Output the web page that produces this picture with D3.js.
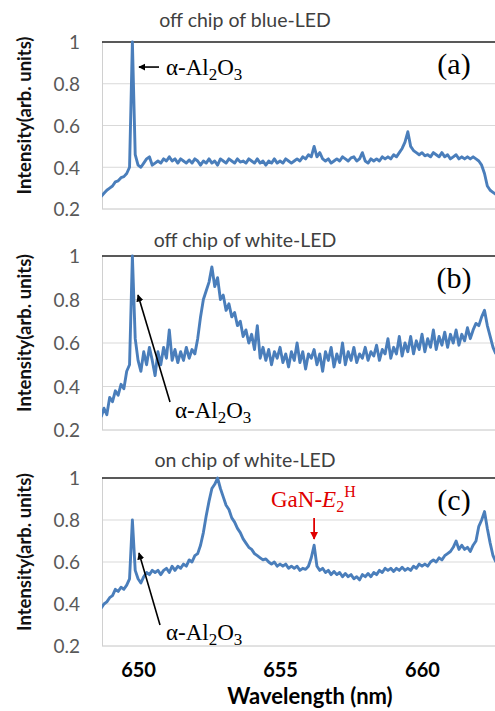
<!DOCTYPE html>
<html>
<head>
<meta charset="UTF-8">
<title>Raman spectra</title>
<style>
  body { margin: 0; background: #fff; }
  svg { display: block; }
  .tick text { font-family: Lato, "Open Sans", sans-serif; }
</style>
</head>
<body>
<svg></svg>
<script src="https://d3js.org/d3.v7.min.js"></script>
<script>

let width = 495, height = 711;

// wavelength (nm), shared by the three spectra
const wavelength = [
  648.7,648.8,648.9,649.0,649.1,649.2,649.3,649.4,649.5,649.6,
  649.7,649.8,649.9,650.0,650.1,650.2,650.3,650.4,650.5,650.6,
  650.7,650.8,650.9,651.0,651.1,651.2,651.3,651.4,651.5,651.6,
  651.7,651.8,651.9,652.0,652.1,652.2,652.3,652.4,652.5,652.6,
  652.7,652.8,652.9,653.0,653.1,653.2,653.3,653.4,653.5,653.6,
  653.7,653.8,653.9,654.0,654.1,654.2,654.3,654.4,654.5,654.6,
  654.7,654.8,654.9,655.0,655.1,655.2,655.3,655.4,655.5,655.6,
  655.7,655.8,655.9,656.0,656.1,656.2,656.3,656.4,656.5,656.6,
  656.7,656.8,656.9,657.0,657.1,657.2,657.3,657.4,657.5,657.6,
  657.7,657.8,657.9,658.0,658.1,658.2,658.3,658.4,658.5,658.6,
  658.7,658.8,658.9,659.0,659.1,659.2,659.3,659.4,659.5,659.6,
  659.7,659.8,659.9,660.0,660.1,660.2,660.3,660.4,660.5,660.6,
  660.7,660.8,660.9,661.0,661.1,661.2,661.3,661.4,661.5,661.6,
  661.7,661.8,661.9,662.0,662.1,662.2,662.3,662.4,662.5,662.6
];

// (a) off chip of blue-LED
const offBlue = [
  0.26,0.275,0.29,0.30,0.31,0.33,0.335,0.35,0.355,0.37,
  0.40,1.00,0.46,0.41,0.40,0.42,0.44,0.45,0.41,0.42,
  0.43,0.42,0.44,0.43,0.45,0.43,0.44,0.42,0.44,0.43,
  0.42,0.435,0.42,0.44,0.43,0.41,0.43,0.42,0.44,0.42,
  0.43,0.41,0.44,0.43,0.42,0.44,0.43,0.42,0.44,0.425,
  0.43,0.42,0.44,0.43,0.42,0.44,0.42,0.43,0.41,0.43,
  0.42,0.44,0.42,0.43,0.42,0.44,0.43,0.42,0.43,0.44,
  0.43,0.45,0.44,0.46,0.45,0.50,0.45,0.47,0.44,0.43,
  0.44,0.42,0.43,0.44,0.43,0.45,0.44,0.43,0.445,0.45,
  0.43,0.44,0.47,0.43,0.42,0.44,0.43,0.44,0.43,0.45,
  0.44,0.45,0.44,0.46,0.45,0.47,0.49,0.52,0.57,0.50,
  0.48,0.47,0.46,0.47,0.455,0.46,0.45,0.47,0.46,0.45,
  0.47,0.45,0.46,0.44,0.45,0.46,0.44,0.45,0.44,0.45,
  0.44,0.45,0.44,0.43,0.41,0.37,0.31,0.29,0.28,0.27
];

// (b) off chip of white-LED
const offWhite = [
  0.26,0.30,0.27,0.35,0.33,0.38,0.36,0.41,0.39,0.47,
  0.50,1.00,0.62,0.52,0.47,0.56,0.50,0.58,0.52,0.45,
  0.56,0.50,0.58,0.53,0.66,0.52,0.57,0.51,0.56,0.52,
  0.58,0.53,0.57,0.55,0.62,0.72,0.80,0.84,0.88,0.95,
  0.86,0.90,0.80,0.82,0.75,0.78,0.72,0.74,0.68,0.70,
  0.63,0.66,0.60,0.64,0.57,0.68,0.53,0.58,0.52,0.57,
  0.50,0.56,0.53,0.58,0.51,0.55,0.49,0.56,0.52,0.60,
  0.51,0.56,0.48,0.55,0.53,0.57,0.50,0.55,0.47,0.56,
  0.52,0.58,0.49,0.55,0.51,0.60,0.50,0.56,0.52,0.58,
  0.51,0.55,0.53,0.58,0.52,0.56,0.54,0.59,0.52,0.57,
  0.55,0.62,0.53,0.58,0.55,0.63,0.54,0.60,0.56,0.63,
  0.55,0.61,0.57,0.64,0.56,0.62,0.58,0.66,0.57,0.63,
  0.59,0.65,0.58,0.64,0.60,0.66,0.59,0.64,0.61,0.67,
  0.62,0.66,0.69,0.68,0.72,0.75,0.68,0.63,0.58,0.55
];

// (c) on chip of white-LED
const onWhite = [
  0.38,0.40,0.41,0.43,0.44,0.47,0.46,0.48,0.47,0.49,
  0.52,0.80,0.56,0.52,0.50,0.53,0.55,0.54,0.56,0.55,
  0.56,0.54,0.56,0.57,0.55,0.58,0.56,0.58,0.57,0.59,
  0.58,0.61,0.60,0.63,0.64,0.68,0.74,0.82,0.89,0.95,
  0.97,1.00,0.95,0.91,0.87,0.85,0.81,0.79,0.76,0.74,
  0.71,0.69,0.67,0.66,0.64,0.63,0.62,0.61,0.615,0.60,
  0.59,0.60,0.58,0.59,0.58,0.59,0.57,0.58,0.57,0.58,
  0.56,0.57,0.565,0.58,0.62,0.68,0.58,0.56,0.57,0.55,
  0.56,0.54,0.555,0.54,0.55,0.53,0.545,0.53,0.54,0.52,
  0.53,0.515,0.54,0.53,0.545,0.53,0.55,0.54,0.56,0.55,
  0.57,0.56,0.57,0.555,0.57,0.56,0.575,0.56,0.57,0.56,
  0.58,0.57,0.59,0.58,0.59,0.58,0.60,0.61,0.60,0.62,
  0.61,0.63,0.64,0.65,0.67,0.70,0.66,0.68,0.66,0.67,
  0.65,0.68,0.70,0.77,0.80,0.84,0.76,0.69,0.63,0.60
];

const panelTitles = ["off chip of blue-LED", "off chip of white-LED", "on chip of white-LED"];
const panelLetters = ["(a)", "(b)", "(c)"];
const yTicks = [0.2, 0.4, 0.6, 0.8, 1];
const xTicks = [650, 655, 660];
const xDomain = [648.73, 662.57];

let svg = d3.select("svg").attr("width", width).attr("height", height);

let sans = "Lato, 'Open Sans', sans-serif";
let serif = "'Liberation Serif', 'Times New Roman', serif";
let blue = "#4a7ebb";

let x = d3.scaleLinear().domain(xDomain).range([102, 495]);

// pixel boxes of the three panels (top = 1, bottom = 0.2)
let boxes = [
  {top: 42, bottom: 209, title: 27},
  {top: 256, bottom: 430, title: 247},
  {top: 478, bottom: 646, title: 467}
];
let series = [offBlue, offWhite, onWhite];

let defs = svg.append("defs");
function marker(id, color) {
  defs.append("marker")
    .attr("id", id)
    .attr("viewBox", "0 0 10 10")
    .attr("refX", 9).attr("refY", 5)
    .attr("markerWidth", 4.5).attr("markerHeight", 4.5)
    .attr("orient", "auto")
    .append("path").attr("d", "M0,0 L10,5 L0,10 z").attr("fill", color);
}
marker("arrBlack", "#000");
marker("arrRed", "#e00000");

defs.append("clipPath").attr("id", "plotclip")
  .append("rect").attr("x", 102).attr("y", 0).attr("width", 393).attr("height", height);

let ys = [];

boxes.forEach((b, i) => {
  let y = d3.scaleLinear().domain([0.2, 1]).range([b.bottom, b.top]);
  ys.push(y);
  let g = svg.append("g");

  // gridlines
  g.selectAll(".grid")
    .data(yTicks.filter(t => t < 1))
    .enter().append("line")
      .attr("x1", 102).attr("x2", 495)
      .attr("y1", d => y(d)).attr("y2", d => y(d))
      .attr("stroke", d => d === 0.2 ? "#c4c4c4" : "#d9d9d9")
      .attr("stroke-width", 1);
  g.append("line")
    .attr("x1", 102.5).attr("x2", 102.5)
    .attr("y1", y(1)).attr("y2", y(0.2))
    .attr("stroke", "#d0d0d0");
  g.append("line")
    .attr("x1", 102).attr("x2", 495)
    .attr("y1", y(1)).attr("y2", y(1))
    .attr("stroke", "#222").attr("stroke-width", 1.6);

  // y axis labels
  let yAxis = d3.axisLeft(y).tickValues(yTicks).tickSize(0).tickPadding(0)
    .tickFormat(d => d === 1 ? "1" : d3.format(".1f")(d));
  let ga = g.append("g").attr("transform", "translate(80,0)").call(yAxis);
  ga.select(".domain").remove();
  ga.selectAll("text")
    .attr("fill", "#595959")
    .style("font-size", "19px")
    .attr("dy", "0.36em");

  // y title
  g.append("text")
    .attr("transform", "translate(31," + ((b.top + b.bottom) / 2 - 10) + ") rotate(-90)")
    .attr("text-anchor", "middle")
    .style("font-family", sans).style("font-weight", "bold").style("font-size", "18.5px")
    .attr("fill", "#111")
    .text("Intensity(arb. units)");

  // panel title
  g.append("text")
    .attr("x", 245).attr("y", b.title)
    .attr("text-anchor", "middle")
    .style("font-family", sans).style("font-size", "19.5px")
    .attr("fill", "#404040")
    .text(panelTitles[i]);

  // spectrum
  let line = d3.line().x((d, j) => x(wavelength[j])).y(d => y(d));
  g.append("path")
    .datum(series[i])
    .attr("clip-path", "url(#plotclip)")
    .attr("d", line)
    .attr("fill", "none")
    .attr("stroke", blue)
    .attr("stroke-width", 2.9)
    .attr("stroke-linejoin", "round");

  // panel letter
  g.append("text")
    .attr("x", 454).attr("y", b.top + 32)
    .attr("text-anchor", "middle")
    .style("font-family", serif).style("font-size", "30px")
    .attr("fill", "#000")
    .text(panelLetters[i]);
});

// alpha-Al2O3 label
function alumina(xp, yp) {
  let t = svg.append("text")
    .attr("x", xp).attr("y", yp)
    .style("font-family", serif).style("font-size", "23px")
    .attr("fill", "#000");
  t.append("tspan").text("\u03b1-Al");
  t.append("tspan").attr("dy", 5).style("font-size", "17px").text("2");
  t.append("tspan").attr("dy", -5).text("O");
  t.append("tspan").attr("dy", 5).style("font-size", "17px").text("3");
}

// (a)
svg.append("line").attr("x1", 159).attr("y1", ys[0](0.88)).attr("x2", 139).attr("y2", ys[0](0.88))
  .attr("stroke", "#000").attr("stroke-width", 1.6).attr("marker-end", "url(#arrBlack)");
alumina(166, 75);

// (b)
svg.append("line").attr("x1", 170).attr("y1", 402).attr("x2", 138).attr("y2", 295)
  .attr("stroke", "#000").attr("stroke-width", 1.6).attr("marker-end", "url(#arrBlack)");
alumina(175, 418);

// (c)
svg.append("line").attr("x1", 160).attr("y1", 625).attr("x2", 139).attr("y2", 553)
  .attr("stroke", "#000").attr("stroke-width", 1.6).attr("marker-end", "url(#arrBlack)");
alumina(166, 640);

// GaN-E2H
let gan = svg.append("text")
  .attr("x", 271).attr("y", 507)
  .style("font-family", serif).style("font-size", "23px")
  .attr("fill", "#e00000");
gan.append("tspan").text("GaN-");
gan.append("tspan").style("font-style", "italic").text("E");
gan.append("tspan").attr("dy", 5).style("font-size", "16px").text("2");
gan.append("tspan").attr("dy", -15).style("font-size", "16px").text("H");
svg.append("line").attr("x1", x(656.2)).attr("y1", 518).attr("x2", x(656.2)).attr("y2", 539)
  .attr("stroke", "#e00000").attr("stroke-width", 1.8).attr("marker-end", "url(#arrRed)");

// x axis
let xAxis = d3.axisBottom(x).tickValues(xTicks).tickSize(0).tickPadding(0).tickFormat(d3.format("d"));
let gx = svg.append("g").attr("transform", "translate(0,663)").call(xAxis);
gx.select(".domain").remove();
gx.selectAll("text")
  .attr("fill", "#000")
  .style("font-size", "20px").style("font-weight", "bold")
  .attr("dy", "0.71em");

svg.append("text")
  .attr("x", 310).attr("y", 704)
  .attr("text-anchor", "middle")
  .style("font-family", sans).style("font-weight", "bold").style("font-size", "22px")
  .attr("fill", "#000")
  .text("Wavelength (nm)");

</script>
</body>
</html>
